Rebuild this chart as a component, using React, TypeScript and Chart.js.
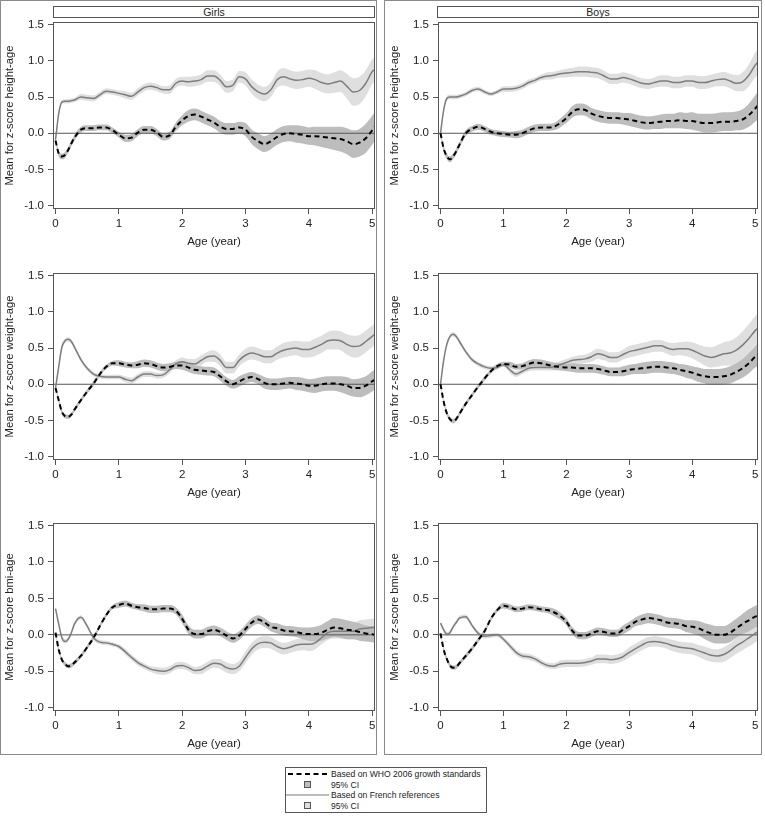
import React, { useEffect, useRef } from 'react';
import { Chart, registerables } from 'chart.js';

Chart.register(...registerables);

// ---------------- DATA ----------------
const AGE = [
  0, 0.05, 0.1, 0.15, 0.2, 0.25, 0.3,
  0.4, 0.5, 0.6, 0.7, 0.8, 0.9, 1.0, 1.1, 1.2, 1.3,
  1.4, 1.5, 1.6, 1.7, 1.8, 1.9, 2.0, 2.1, 2.2, 2.3,
  2.4, 2.5, 2.6, 2.7, 2.8, 2.9, 3.0, 3.1, 3.2, 3.3,
  3.4, 3.5, 3.6, 3.7, 3.8, 3.9, 4.0, 4.1, 4.2, 4.3,
  4.4, 4.5, 4.6, 4.7, 4.8, 4.9, 5.0,
  5.04,
];

const X_TICKS = [0, 1, 2, 3, 4, 5];
const Y_TICKS = [-1.0, -0.5, 0.0, 0.5, 1.0, 1.5];

// Girls, height-for-age
const GIRLS_HEIGHT_FR = [
  -0.09, 0.27, 0.43, 0.44, 0.44, 0.45, 0.46,
  0.50, 0.49, 0.48, 0.53, 0.58, 0.57, 0.55, 0.53, 0.51, 0.57,
  0.63, 0.65, 0.63, 0.60, 0.60, 0.69, 0.72, 0.71, 0.72, 0.74,
  0.79, 0.79, 0.73, 0.64, 0.66, 0.78, 0.75, 0.64, 0.57, 0.54,
  0.60, 0.74, 0.78, 0.75, 0.73, 0.74, 0.76, 0.74, 0.70, 0.68,
  0.70, 0.72, 0.65, 0.57, 0.59, 0.69, 0.85,
  0.88,
];
const GIRLS_HEIGHT_FR_CI = [
  0.03, 0.03, 0.03, 0.03, 0.03, 0.03, 0.03,
  0.04, 0.04, 0.04, 0.04, 0.04, 0.04, 0.04, 0.05, 0.05, 0.05,
  0.05, 0.05, 0.05, 0.05, 0.06, 0.06, 0.06, 0.07, 0.07, 0.07,
  0.08, 0.08, 0.08, 0.08, 0.08, 0.08, 0.09, 0.10, 0.10, 0.10,
  0.10, 0.11, 0.12, 0.12, 0.12, 0.12, 0.12, 0.13, 0.13, 0.13,
  0.14, 0.15, 0.17, 0.19, 0.19, 0.18, 0.17,
  0.17,
];
const GIRLS_HEIGHT_WHO = [
  -0.10, -0.28, -0.32, -0.30, -0.23, -0.14, -0.06,
  0.05, 0.07, 0.07, 0.08, 0.08, 0.04, -0.02, -0.07, -0.06, 0.01,
  0.05, 0.05, 0.01, -0.05, -0.03, 0.09, 0.18, 0.24, 0.26, 0.23,
  0.19, 0.15, 0.09, 0.06, 0.06, 0.08, 0.05, -0.05, -0.11, -0.15,
  -0.11, -0.05, -0.01, 0.00, -0.01, -0.02, -0.04, -0.04, -0.05, -0.06,
  -0.07, -0.08, -0.11, -0.15, -0.13, -0.07, 0.04,
  0.09,
];
const GIRLS_HEIGHT_WHO_CI = [
  0.03, 0.04, 0.04, 0.04, 0.04, 0.04, 0.04,
  0.04, 0.04, 0.04, 0.04, 0.04, 0.04, 0.04, 0.05, 0.05, 0.05,
  0.05, 0.05, 0.05, 0.05, 0.05, 0.06, 0.07, 0.08, 0.08, 0.08,
  0.08, 0.08, 0.08, 0.08, 0.08, 0.08, 0.09, 0.10, 0.11, 0.11,
  0.11, 0.11, 0.11, 0.11, 0.12, 0.12, 0.12, 0.13, 0.14, 0.15,
  0.16, 0.17, 0.18, 0.19, 0.19, 0.20, 0.20,
  0.20,
];

// Boys, height-for-age
const BOYS_HEIGHT_FR = [
  0.00, 0.32, 0.48, 0.50, 0.50, 0.50, 0.51,
  0.54, 0.59, 0.61, 0.57, 0.54, 0.57, 0.61, 0.61, 0.62, 0.65,
  0.70, 0.73, 0.77, 0.79, 0.80, 0.82, 0.83, 0.84, 0.85, 0.85,
  0.84, 0.83, 0.79, 0.75, 0.75, 0.77, 0.75, 0.72, 0.69, 0.68,
  0.70, 0.72, 0.72, 0.70, 0.70, 0.72, 0.72, 0.70, 0.70, 0.72,
  0.74, 0.75, 0.72, 0.69, 0.71, 0.80, 0.94,
  0.98,
];
const BOYS_HEIGHT_FR_CI = [
  0.02, 0.03, 0.03, 0.03, 0.03, 0.03, 0.03,
  0.03, 0.03, 0.03, 0.03, 0.03, 0.03, 0.04, 0.04, 0.04, 0.04,
  0.04, 0.04, 0.04, 0.05, 0.05, 0.05, 0.06, 0.06, 0.07, 0.07,
  0.07, 0.07, 0.07, 0.07, 0.07, 0.07, 0.07, 0.07, 0.07, 0.07,
  0.07, 0.08, 0.08, 0.08, 0.08, 0.08, 0.08, 0.09, 0.09, 0.09,
  0.09, 0.10, 0.10, 0.11, 0.13, 0.15, 0.17,
  0.18,
];
const BOYS_HEIGHT_WHO = [
  0.00, -0.21, -0.32, -0.36, -0.32, -0.25, -0.16,
  0.00, 0.06, 0.09, 0.06, 0.02, 0.00, -0.01, -0.02, -0.02, 0.00,
  0.04, 0.07, 0.08, 0.08, 0.09, 0.14, 0.21, 0.30, 0.33, 0.32,
  0.27, 0.24, 0.22, 0.21, 0.21, 0.20, 0.19, 0.17, 0.15, 0.14,
  0.15, 0.16, 0.17, 0.17, 0.18, 0.17, 0.17, 0.15, 0.14, 0.14,
  0.15, 0.16, 0.16, 0.17, 0.19, 0.25, 0.34,
  0.38,
];
const BOYS_HEIGHT_WHO_CI = [
  0.03, 0.04, 0.04, 0.04, 0.04, 0.04, 0.04,
  0.04, 0.04, 0.04, 0.04, 0.04, 0.04, 0.04, 0.04, 0.05, 0.05,
  0.05, 0.05, 0.05, 0.05, 0.05, 0.06, 0.07, 0.08, 0.08, 0.08,
  0.08, 0.08, 0.08, 0.08, 0.08, 0.08, 0.09, 0.09, 0.09, 0.09,
  0.09, 0.10, 0.10, 0.10, 0.11, 0.11, 0.12, 0.12, 0.13, 0.13,
  0.13, 0.13, 0.13, 0.13, 0.14, 0.16, 0.18,
  0.19,
];

// Girls, weight-for-age
const GIRLS_WEIGHT_FR = [
  -0.05, 0.24, 0.51, 0.60, 0.62, 0.59, 0.51,
  0.34, 0.22, 0.14, 0.11, 0.10, 0.10, 0.10, 0.07, 0.05, 0.10,
  0.14, 0.14, 0.12, 0.13, 0.20, 0.28, 0.31, 0.29, 0.28, 0.33,
  0.38, 0.39, 0.33, 0.23, 0.23, 0.33, 0.40, 0.43, 0.41, 0.38,
  0.38, 0.43, 0.47, 0.49, 0.50, 0.48, 0.48, 0.51, 0.55, 0.60,
  0.61, 0.60, 0.55, 0.52, 0.53, 0.59, 0.66,
  0.69,
];
const GIRLS_WEIGHT_FR_CI = [
  0.02, 0.03, 0.03, 0.03, 0.03, 0.03, 0.03,
  0.03, 0.03, 0.03, 0.03, 0.03, 0.03, 0.03, 0.04, 0.04, 0.04,
  0.04, 0.04, 0.04, 0.04, 0.05, 0.05, 0.06, 0.06, 0.07, 0.07,
  0.07, 0.08, 0.08, 0.08, 0.08, 0.08, 0.09, 0.09, 0.09, 0.09,
  0.09, 0.09, 0.10, 0.10, 0.10, 0.11, 0.11, 0.12, 0.12, 0.12,
  0.13, 0.13, 0.14, 0.15, 0.15, 0.15, 0.15,
  0.15,
];
const GIRLS_WEIGHT_WHO = [
  -0.05, -0.22, -0.38, -0.44, -0.45, -0.42, -0.35,
  -0.22, -0.10, 0.01, 0.14, 0.24, 0.29, 0.29, 0.27, 0.26, 0.27,
  0.29, 0.28, 0.25, 0.23, 0.24, 0.26, 0.26, 0.23, 0.20, 0.19,
  0.18, 0.17, 0.11, 0.04, 0.00, 0.04, 0.08, 0.10, 0.07, 0.02,
  0.00, 0.00, 0.01, 0.02, 0.01, 0.00, -0.02, -0.02, 0.00, 0.01,
  0.01, 0.00, -0.02, -0.05, -0.05, -0.02, 0.04,
  0.06,
];
const GIRLS_WEIGHT_WHO_CI = [
  0.02, 0.03, 0.03, 0.03, 0.03, 0.03, 0.03,
  0.03, 0.03, 0.03, 0.03, 0.03, 0.03, 0.04, 0.04, 0.04, 0.05,
  0.05, 0.05, 0.05, 0.05, 0.05, 0.05, 0.06, 0.06, 0.06, 0.06,
  0.06, 0.06, 0.06, 0.06, 0.06, 0.07, 0.07, 0.07, 0.07, 0.08,
  0.08, 0.08, 0.08, 0.08, 0.09, 0.09, 0.09, 0.10, 0.10, 0.10,
  0.10, 0.11, 0.12, 0.12, 0.13, 0.13, 0.14,
  0.14,
];

// Boys, weight-for-age
const BOYS_WEIGHT_FR = [
  0.00, 0.33, 0.55, 0.66, 0.69, 0.66, 0.59,
  0.45, 0.34, 0.28, 0.24, 0.22, 0.23, 0.27, 0.20, 0.14, 0.18,
  0.22, 0.23, 0.23, 0.23, 0.24, 0.27, 0.30, 0.33, 0.34, 0.35,
  0.38, 0.42, 0.40, 0.37, 0.37, 0.41, 0.45, 0.47, 0.49, 0.51,
  0.53, 0.53, 0.50, 0.48, 0.49, 0.49, 0.47, 0.43, 0.39, 0.37,
  0.39, 0.42, 0.43, 0.47, 0.54, 0.63, 0.74,
  0.77,
];
const BOYS_WEIGHT_FR_CI = [
  0.02, 0.03, 0.03, 0.03, 0.03, 0.03, 0.03,
  0.03, 0.03, 0.03, 0.03, 0.03, 0.03, 0.03, 0.04, 0.04, 0.04,
  0.04, 0.04, 0.04, 0.04, 0.05, 0.05, 0.05, 0.05, 0.06, 0.06,
  0.07, 0.07, 0.07, 0.07, 0.07, 0.07, 0.08, 0.08, 0.08, 0.08,
  0.08, 0.08, 0.08, 0.09, 0.09, 0.10, 0.11, 0.12, 0.13, 0.14,
  0.15, 0.16, 0.17, 0.18, 0.19, 0.20, 0.20,
  0.20,
];
const BOYS_WEIGHT_WHO = [
  0.00, -0.24, -0.40, -0.48, -0.51, -0.48, -0.41,
  -0.27, -0.15, -0.03, 0.08, 0.18, 0.25, 0.28, 0.27, 0.24, 0.25,
  0.28, 0.30, 0.29, 0.27, 0.25, 0.24, 0.23, 0.23, 0.22, 0.22,
  0.22, 0.21, 0.19, 0.17, 0.17, 0.18, 0.20, 0.21, 0.22, 0.23,
  0.24, 0.24, 0.23, 0.22, 0.20, 0.18, 0.16, 0.13, 0.11, 0.10,
  0.10, 0.11, 0.13, 0.17, 0.22, 0.29, 0.38,
  0.41,
];
const BOYS_WEIGHT_WHO_CI = [
  0.02, 0.03, 0.03, 0.03, 0.03, 0.03, 0.03,
  0.03, 0.03, 0.03, 0.03, 0.03, 0.03, 0.03, 0.04, 0.04, 0.04,
  0.05, 0.05, 0.05, 0.05, 0.05, 0.05, 0.05, 0.06, 0.06, 0.06,
  0.06, 0.06, 0.06, 0.06, 0.06, 0.07, 0.07, 0.07, 0.08, 0.08,
  0.08, 0.08, 0.08, 0.08, 0.08, 0.09, 0.09, 0.10, 0.10, 0.11,
  0.11, 0.11, 0.12, 0.12, 0.13, 0.14, 0.15,
  0.16,
];

// Girls, BMI-for-age
const GIRLS_BMI_FR = [
  0.36, 0.15, -0.04, -0.09, -0.06, 0.03, 0.15,
  0.24, 0.12, -0.04, -0.10, -0.11, -0.13, -0.16, -0.23, -0.31, -0.38,
  -0.43, -0.47, -0.49, -0.50, -0.48, -0.43, -0.42, -0.45, -0.49, -0.48,
  -0.43, -0.39, -0.40, -0.45, -0.47, -0.43, -0.31, -0.19, -0.12, -0.10,
  -0.11, -0.16, -0.19, -0.17, -0.14, -0.13, -0.13, -0.11, -0.04, 0.03,
  0.05, 0.05, 0.05, 0.05, 0.08, 0.09, 0.10,
  0.10,
];
const GIRLS_BMI_FR_CI = [
  0.03, 0.03, 0.03, 0.03, 0.03, 0.03, 0.03,
  0.03, 0.03, 0.03, 0.03, 0.03, 0.03, 0.03, 0.04, 0.04, 0.04,
  0.04, 0.04, 0.05, 0.05, 0.05, 0.05, 0.05, 0.05, 0.05, 0.06,
  0.06, 0.06, 0.07, 0.07, 0.07, 0.07, 0.08, 0.08, 0.08, 0.08,
  0.08, 0.08, 0.08, 0.08, 0.08, 0.08, 0.09, 0.09, 0.09, 0.10,
  0.10, 0.10, 0.11, 0.11, 0.12, 0.12, 0.12,
  0.12,
];
const GIRLS_BMI_WHO = [
  0.03, -0.20, -0.34, -0.40, -0.43, -0.42, -0.38,
  -0.29, -0.17, -0.04, 0.12, 0.27, 0.38, 0.41, 0.43, 0.40, 0.38,
  0.37, 0.35, 0.35, 0.36, 0.36, 0.33, 0.22, 0.07, 0.01, 0.01,
  0.05, 0.07, 0.04, -0.01, -0.05, -0.01, 0.08, 0.17, 0.21, 0.17,
  0.11, 0.09, 0.06, 0.05, 0.04, 0.02, 0.01, 0.01, 0.03, 0.07,
  0.10, 0.09, 0.07, 0.06, 0.04, 0.02, 0.01,
  0.00,
];
const GIRLS_BMI_WHO_CI = [
  0.02, 0.03, 0.03, 0.03, 0.03, 0.03, 0.03,
  0.03, 0.03, 0.03, 0.03, 0.03, 0.03, 0.04, 0.04, 0.04, 0.04,
  0.05, 0.05, 0.05, 0.05, 0.05, 0.05, 0.06, 0.06, 0.06, 0.06,
  0.06, 0.06, 0.06, 0.06, 0.06, 0.06, 0.06, 0.06, 0.06, 0.06,
  0.06, 0.07, 0.07, 0.07, 0.07, 0.08, 0.09, 0.10, 0.11, 0.12,
  0.13, 0.13, 0.13, 0.12, 0.12, 0.11, 0.11,
  0.11,
];

// Boys, BMI-for-age
const BOYS_BMI_FR = [
  0.16, 0.07, 0.01, 0.03, 0.11, 0.17, 0.23,
  0.25, 0.13, 0.02, -0.02, -0.01, 0.00, -0.06, -0.15, -0.24, -0.29,
  -0.30, -0.33, -0.38, -0.42, -0.43, -0.40, -0.39, -0.39, -0.39, -0.38,
  -0.36, -0.33, -0.33, -0.34, -0.33, -0.30, -0.24, -0.19, -0.14, -0.10,
  -0.09, -0.10, -0.12, -0.15, -0.17, -0.18, -0.19, -0.22, -0.25, -0.28,
  -0.29, -0.27, -0.22, -0.15, -0.10, -0.04, 0.02,
  0.04,
];
const BOYS_BMI_FR_CI = [
  0.03, 0.03, 0.03, 0.03, 0.03, 0.03, 0.03,
  0.03, 0.03, 0.03, 0.03, 0.03, 0.03, 0.03, 0.04, 0.04, 0.04,
  0.04, 0.04, 0.04, 0.04, 0.04, 0.05, 0.05, 0.05, 0.05, 0.05,
  0.05, 0.06, 0.06, 0.06, 0.06, 0.06, 0.07, 0.07, 0.07, 0.07,
  0.07, 0.07, 0.07, 0.08, 0.08, 0.08, 0.08, 0.08, 0.09, 0.09,
  0.09, 0.10, 0.10, 0.11, 0.11, 0.12, 0.12,
  0.12,
];
const BOYS_BMI_WHO = [
  0.02, -0.20, -0.33, -0.42, -0.45, -0.44, -0.39,
  -0.29, -0.19, -0.07, 0.05, 0.22, 0.34, 0.40, 0.38, 0.35, 0.36,
  0.38, 0.37, 0.35, 0.34, 0.31, 0.26, 0.18, 0.05, -0.01, -0.01,
  0.02, 0.05, 0.04, 0.02, 0.02, 0.07, 0.12, 0.18, 0.21, 0.23,
  0.22, 0.20, 0.17, 0.16, 0.15, 0.12, 0.11, 0.09, 0.05, 0.02,
  0.00, 0.00, 0.03, 0.09, 0.15, 0.20, 0.25,
  0.26,
];
const BOYS_BMI_WHO_CI = [
  0.02, 0.03, 0.03, 0.03, 0.03, 0.03, 0.03,
  0.03, 0.03, 0.03, 0.03, 0.03, 0.03, 0.04, 0.04, 0.04, 0.04,
  0.04, 0.04, 0.04, 0.04, 0.05, 0.05, 0.05, 0.05, 0.05, 0.05,
  0.05, 0.05, 0.05, 0.05, 0.05, 0.06, 0.06, 0.06, 0.07, 0.07,
  0.07, 0.07, 0.07, 0.07, 0.07, 0.08, 0.09, 0.10, 0.11, 0.12,
  0.12, 0.12, 0.13, 0.13, 0.14, 0.15, 0.15,
  0.15,
];

const SEX_LABELS = ['Girls', 'Boys'];
const Y_TITLES = [
  'Mean for z-score height-age',
  'Mean for z-score weight-age',
  'Mean for z-score bmi-age',
];
const X_TITLE = 'Age (year)';
const LEGEND_LABELS = [
  'Based on WHO 2006 growth standards',
  '95% CI',
  'Based on French references',
  '95% CI',
];

// ---------------- STYLE / LAYOUT ----------------
const FONT = 'Arial, "Liberation Sans", Helvetica, sans-serif';
const TEXT = '#222';
const FRAME = '#555';
const WHO_LINE = '#000000';
const FR_LINE = '#7d7d7d';
const WHO_BAND = '#bdbdbd';
const FR_BAND = '#dfdfdf';

const X_MIN = -0.04;
const X_MAX = 5.045;
const Y_MIN = -1.045;
const Y_MAX = 1.535;

const COLS = [
  { canvasLeft: 1, plotLeft: 53, plotRight: 375, stripLeft: 53, stripRight: 375, boxLeft: 0, boxRight: 377 },
  { canvasLeft: 386, plotLeft: 438, plotRight: 758, stripLeft: 437, stripRight: 759, boxLeft: 384, boxRight: 762 },
];
const ROWS = [
  { plotTop: 22, plotBottom: 209 },
  { plotTop: 273, plotBottom: 460 },
  { plotTop: 523, plotBottom: 711 },
];
const PAD_TOP = 12;
const PAD_RIGHT = 5;
const X_AXIS_H = 44;

type PanelDef = {
  col: number;
  row: number;
  who: number[];
  whoCI: number[];
  fr: number[];
  frCI: number[];
};

const PANELS: PanelDef[] = [
  { col: 0, row: 0, who: GIRLS_HEIGHT_WHO, whoCI: GIRLS_HEIGHT_WHO_CI, fr: GIRLS_HEIGHT_FR, frCI: GIRLS_HEIGHT_FR_CI },
  { col: 1, row: 0, who: BOYS_HEIGHT_WHO, whoCI: BOYS_HEIGHT_WHO_CI, fr: BOYS_HEIGHT_FR, frCI: BOYS_HEIGHT_FR_CI },
  { col: 0, row: 1, who: GIRLS_WEIGHT_WHO, whoCI: GIRLS_WEIGHT_WHO_CI, fr: GIRLS_WEIGHT_FR, frCI: GIRLS_WEIGHT_FR_CI },
  { col: 1, row: 1, who: BOYS_WEIGHT_WHO, whoCI: BOYS_WEIGHT_WHO_CI, fr: BOYS_WEIGHT_FR, frCI: BOYS_WEIGHT_FR_CI },
  { col: 0, row: 2, who: GIRLS_BMI_WHO, whoCI: GIRLS_BMI_WHO_CI, fr: GIRLS_BMI_FR, frCI: GIRLS_BMI_FR_CI },
  { col: 1, row: 2, who: BOYS_BMI_WHO, whoCI: BOYS_BMI_WHO_CI, fr: BOYS_BMI_FR, frCI: BOYS_BMI_FR_CI },
];

const pts = (ys: number[]) => AGE.map((x, i) => ({ x, y: ys[i] }));
const lowPts = (ys: number[], ci: number[]) => AGE.map((x, i) => ({ x, y: ys[i] - ci[i] }));
const highPts = (ys: number[], ci: number[]) => AGE.map((x, i) => ({ x, y: ys[i] + ci[i] }));

const framePlugin = {
  id: 'frame',
  afterDatasetsDraw(chart: any) {
    const { ctx, chartArea } = chart;
    const { left, top, right, bottom } = chartArea;
    const y0 = chart.scales.y.getPixelForValue(0);
    ctx.save();
    ctx.strokeStyle = FRAME;
    ctx.lineWidth = 1;
    ctx.strokeRect(Math.round(left) + 0.5, Math.round(top) + 0.5, Math.round(right - left) - 1, Math.round(bottom - top) - 1);
    ctx.restore();
  },
};

function PanelChart({ def }: { def: PanelDef }) {
  const ref = useRef<HTMLCanvasElement | null>(null);
  const c = COLS[def.col];
  const r = ROWS[def.row];
  const left = c.canvasLeft;
  const top = r.plotTop - PAD_TOP;
  const width = c.plotRight + PAD_RIGHT - c.canvasLeft;
  const height = r.plotBottom - r.plotTop + PAD_TOP + X_AXIS_H;
  const yAxisW = c.plotLeft - c.canvasLeft;

  useEffect(() => {
    if (!ref.current) return;
    const base = {
      pointRadius: 0,
      pointHoverRadius: 0,
      pointHitRadius: 0,
      cubicInterpolationMode: 'monotone' as const,
    };
    const zeroData = [{ x: X_MIN, y: 0 }, { x: X_MAX, y: 0 }];
    const chart = new Chart(ref.current, {
      type: 'line',
      data: {
        datasets: [
          { ...base, label: 'WHO', data: pts(def.who), borderColor: WHO_LINE, borderWidth: 2, borderDash: [5, 3.5], fill: false, order: 1 },
          { ...base, label: 'French', data: pts(def.fr), borderColor: FR_LINE, borderWidth: 1.5, fill: false, order: 2 },
          { ...base, label: 'zero', data: zeroData, borderColor: FRAME, borderWidth: 1, fill: false, order: 3, cubicInterpolationMode: 'default' as const, tension: 0 },
          { ...base, label: 'WHO low', data: lowPts(def.who, def.whoCI), borderWidth: 0, borderColor: 'rgba(0,0,0,0)', fill: false, order: 4 },
          { ...base, label: 'WHO high', data: highPts(def.who, def.whoCI), borderWidth: 0, borderColor: 'rgba(0,0,0,0)', backgroundColor: WHO_BAND, fill: '-1', order: 4 },
          { ...base, label: 'FR low', data: lowPts(def.fr, def.frCI), borderWidth: 0, borderColor: 'rgba(0,0,0,0)', fill: false, order: 5 },
          { ...base, label: 'FR high', data: highPts(def.fr, def.frCI), borderWidth: 0, borderColor: 'rgba(0,0,0,0)', backgroundColor: FR_BAND, fill: '-1', order: 5 },
        ],
      },
      options: {
        animation: false,
        responsive: true,
        maintainAspectRatio: false,
        events: [],
        layout: { padding: { left: 0, right: PAD_RIGHT, top: PAD_TOP, bottom: 0 } },
        plugins: { legend: { display: false }, tooltip: { enabled: false } },
        scales: {
          x: {
            type: 'linear',
            position: 'bottom',
            min: X_MIN,
            max: X_MAX,
            afterBuildTicks: (axis: any) => {
              axis.ticks = X_TICKS.map((v) => ({ value: v }));
            },
            afterFit: (axis: any) => {
              axis.height = X_AXIS_H;
            },
            grid: { display: true, drawOnChartArea: false, drawTicks: true, tickLength: 5, color: FRAME, lineWidth: 1 },
            border: { display: false },
            ticks: {
              autoSkip: false,
              maxRotation: 0,
              padding: 3,
              color: TEXT,
              font: { family: FONT, size: 11.5 },
              callback: (v: any) => String(v),
            },
            title: {
              display: true,
              text: X_TITLE,
              color: TEXT,
              font: { family: FONT, size: 11.5 },
              padding: { top: 0, bottom: 4 },
            },
          },
          y: {
            type: 'linear',
            position: 'left',
            min: Y_MIN,
            max: Y_MAX,
            afterBuildTicks: (axis: any) => {
              axis.ticks = Y_TICKS.map((v) => ({ value: v }));
            },
            afterFit: (axis: any) => {
              axis.width = yAxisW;
            },
            grid: { display: true, drawOnChartArea: false, drawTicks: true, tickLength: 5, color: FRAME, lineWidth: 1 },
            border: { display: false },
            ticks: {
              autoSkip: false,
              padding: 4,
              color: TEXT,
              font: { family: FONT, size: 11.5 },
              callback: (v: any) => Number(v).toFixed(1),
            },
            title: {
              display: true,
              text: Y_TITLES[def.row],
              color: TEXT,
              font: { family: FONT, size: 11.2 },
              padding: { top: 2, bottom: 0 },
            },
          },
        },
      },
      plugins: [framePlugin],
    } as any);
    return () => chart.destroy();
  }, []);

  return (
    <div style={{ position: 'absolute', left, top, width, height }}>
      <canvas ref={ref} />
    </div>
  );
}

function Legend() {
  const rowY = [7, 18, 28, 39];
  const textStyle: React.CSSProperties = {
    position: 'absolute',
    left: 45,
    fontFamily: FONT,
    fontSize: 8.6,
    color: TEXT,
    lineHeight: '10px',
    whiteSpace: 'nowrap',
  };
  return (
    <div
      style={{
        position: 'absolute',
        left: 285,
        top: 767,
        width: 202,
        height: 46,
        border: `1px solid ${FRAME}`,
        boxSizing: 'border-box',
        background: '#fff',
      }}
    >
      <svg width={200} height={44} style={{ position: 'absolute', left: 0, top: 0 }}>
        <line x1={2} y1={rowY[0] - 1} x2={42} y2={rowY[0] - 1} stroke={WHO_LINE} strokeWidth={2} strokeDasharray="5,3.5" />
        <rect x={18.5} y={rowY[1] - 4.5} width={6} height={6} fill={WHO_BAND} stroke={FRAME} strokeWidth={1} />
        <line x1={0} y1={rowY[2] - 1} x2={43} y2={rowY[2] - 1} stroke={FR_LINE} strokeWidth={1.2} />
        <rect x={18.5} y={rowY[3] - 4.5} width={6} height={6} fill={FR_BAND} stroke={FRAME} strokeWidth={1} />
      </svg>
      {LEGEND_LABELS.map((t, i) => (
        <div key={i} style={{ ...textStyle, top: rowY[i] - 6 }}>
          {t}
        </div>
      ))}
    </div>
  );
}

export default function App() {
  return (
    <div style={{ position: 'absolute', left: 0, top: 0, width: 765, height: 818, background: '#fff', overflow: 'hidden' }}>
      {COLS.map((c, i) => (
        <React.Fragment key={i}>
          <div
            style={{
              position: 'absolute',
              left: c.boxLeft,
              top: 0,
              width: c.boxRight - c.boxLeft,
              height: 755,
              border: '1px solid #8a8a8a',
              boxSizing: 'border-box',
            }}
          />
          <div
            style={{
              position: 'absolute',
              left: c.stripLeft,
              top: 6,
              width: c.stripRight - c.stripLeft,
              height: 12,
              border: `1px solid ${FRAME}`,
              boxSizing: 'border-box',
              fontFamily: FONT,
              fontSize: 10.5,
              lineHeight: '10px',
              textAlign: 'center',
              color: TEXT,
            }}
          >
            {SEX_LABELS[i]}
          </div>
        </React.Fragment>
      ))}
      {PANELS.map((p, i) => (
        <PanelChart key={i} def={p} />
      ))}
      <Legend />
    </div>
  );
}
